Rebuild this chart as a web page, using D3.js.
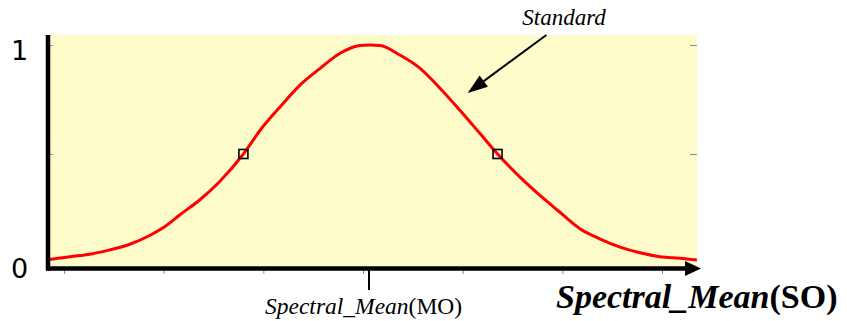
<!DOCTYPE html>
<html>
<head>
<meta charset="utf-8">
<script src="https://cdn.jsdelivr.net/npm/d3@7"></script>
<style>
  body { margin: 0; background: #fff; }
  svg { display: block; }
</style>
</head>
<body>
<div id="chart"></div>
<script>
// membership curve (x in tick units, y = degree)
const curveX = [-0.17, -0.14, 0.06, 0.26, 0.46, 0.66, 0.86, 0.99, 1.16, 1.36, 1.56, 1.80, 1.97, 2.17, 2.37, 2.57, 2.77, 2.97, 3.07, 3.17, 3.37, 3.57, 3.77, 3.97, 4.17, 4.35, 4.57, 4.77, 4.97, 5.18, 5.38, 5.58, 5.78, 5.98, 6.18, 6.35];
const curveY = [0.015, 0.017, 0.029, 0.040, 0.060, 0.086, 0.126, 0.160, 0.220, 0.289, 0.373, 0.500, 0.610, 0.717, 0.817, 0.893, 0.962, 0.998, 1.000, 0.998, 0.954, 0.894, 0.803, 0.702, 0.596, 0.500, 0.396, 0.312, 0.235, 0.156, 0.110, 0.073, 0.047, 0.029, 0.022, 0.014];

// the two crossover points marked with squares
const markX = [1.80, 4.35];
const markY = [0.5, 0.5];

const xTicks = [0, 1, 2, 3, 4, 5, 6];
const yLabels = ["0", "1"];
const meanX = 3.06;

const width = 847, height = 321;
const plotL = 47, plotR = 697, plotT = 35, plotB = 268;

let svg = d3.select("#chart")
    .append("svg")
    .attr("width", width)
    .attr("height", height);

let x = d3.scaleLinear().domain([0, 6]).range([64, 662]);
let y = d3.scaleLinear().domain([0, 1]).range([263, 45]);

// pale yellow plotting area
svg.append("rect")
    .attr("x", plotL).attr("y", plotT)
    .attr("width", plotR - plotL).attr("height", plotB - plotT)
    .attr("fill", "#fffccc");

// small grey ticks (inside left, right edge, under x axis)
svg.append("g")
    .attr("transform", `translate(${plotL + 6},0)`)
    .call(d3.axisLeft(y).tickValues([0.5, 1]).tickSize(3).tickFormat(""))
    .call(g => g.select(".domain").remove())
    .call(g => g.selectAll("line").attr("stroke", "#8a8a8a"));

svg.append("g")
    .attr("transform", `translate(${plotR},0)`)
    .call(d3.axisLeft(y).tickValues([0.5, 1]).tickSize(7).tickFormat(""))
    .call(g => g.select(".domain").remove())
    .call(g => g.selectAll("line").attr("stroke", "#8a8a8a"));

svg.append("g")
    .attr("transform", `translate(0,${plotB + 2})`)
    .call(d3.axisBottom(x).tickValues(xTicks).tickSize(4).tickFormat(""))
    .call(g => g.select(".domain").remove())
    .call(g => g.selectAll("line").attr("stroke", "#8a8a8a"));

// the curve
let pts = curveX.map((d, i) => [d, curveY[i]]);
let line = d3.line()
    .x(d => x(d[0]))
    .y(d => y(d[1]))
    .curve(d3.curveMonotoneX);

svg.append("path")
    .datum(pts)
    .attr("d", line)
    .attr("fill", "none")
    .attr("stroke", "#ff0000")
    .attr("stroke-width", 3);

svg.selectAll(".mark")
    .data(markX)
    .enter()
    .append("rect")
    .attr("class", "mark")
    .attr("x", d => x(d) - 4.5)
    .attr("y", (d, i) => y(markY[i]) - 4.5)
    .attr("width", 9).attr("height", 9)
    .attr("fill", "none")
    .attr("stroke", "#000")
    .attr("stroke-width", 1.6);

// axes: thick black lines, arrow on x
svg.append("line")
    .attr("x1", 48).attr("x2", 48)
    .attr("y1", plotT).attr("y2", plotB + 2.5)
    .attr("stroke", "#000").attr("stroke-width", 4.5);

svg.append("line")
    .attr("x1", 46).attr("x2", 688)
    .attr("y1", plotB + 0.5).attr("y2", plotB + 0.5)
    .attr("stroke", "#000").attr("stroke-width", 4.5);

svg.append("path")
    .attr("d", `M685,${plotB - 7}L701,${plotB + 0.5}L685,${plotB + 8}Z`)
    .attr("fill", "#000");

// mean tick
svg.append("line")
    .attr("x1", x(meanX)).attr("x2", x(meanX))
    .attr("y1", plotB + 2).attr("y2", plotB + 22)
    .attr("stroke", "#000").attr("stroke-width", 2);

// y labels
svg.selectAll(".ylab")
    .data([0, 1])
    .enter()
    .append("text")
    .attr("class", "ylab")
    .attr("x", 11)
    .attr("y", d => y(d) + 15)
    .attr("font-family", "DejaVu Sans, sans-serif")
    .attr("font-size", 27)
    .text((d, i) => yLabels[i]);

// arrow pointing to the curve
const arrowFrom = [4.84, 1.046], arrowTo = [4.05, 0.78];
let ax1 = x(arrowFrom[0]), ay1 = y(arrowFrom[1]);
let ax2 = x(arrowTo[0]), ay2 = y(arrowTo[1]);
let ang = Math.atan2(ay2 - ay1, ax2 - ax1);
let hl = 20, hw = 7;
let bx = ax2 - hl * Math.cos(ang), by = ay2 - hl * Math.sin(ang);
svg.append("line")
    .attr("x1", ax1).attr("y1", ay1)
    .attr("x2", bx).attr("y2", by)
    .attr("stroke", "#000").attr("stroke-width", 2);
svg.append("path")
    .attr("d", `M${ax2},${ay2}L${bx + hw * Math.sin(ang)},${by - hw * Math.cos(ang)}L${bx - hw * Math.sin(ang)},${by + hw * Math.cos(ang)}Z`)
    .attr("fill", "#000");

svg.append("text")
    .attr("x", 564).attr("y", 25)
    .attr("text-anchor", "middle")
    .attr("font-family", "'Liberation Serif', 'Times New Roman', serif")
    .attr("font-style", "italic")
    .attr("font-size", 23)
    .text("Standard");

let mo = svg.append("text")
    .attr("x", 265).attr("y", 314)
    .attr("font-family", "'Liberation Serif', 'Times New Roman', serif")
    .attr("font-size", 23.5);
mo.append("tspan").attr("font-style", "italic").text("Spectral_Mean");
mo.append("tspan").text("(MO)");

let so = svg.append("text")
    .attr("x", 556).attr("y", 308)
    .attr("font-family", "'Liberation Serif', 'Times New Roman', serif")
    .attr("font-weight", "bold")
    .attr("font-size", 34);
so.append("tspan").attr("font-style", "italic").text("Spectral_Mean");
so.append("tspan").text("(SO)");
</script>
</body>
</html>
